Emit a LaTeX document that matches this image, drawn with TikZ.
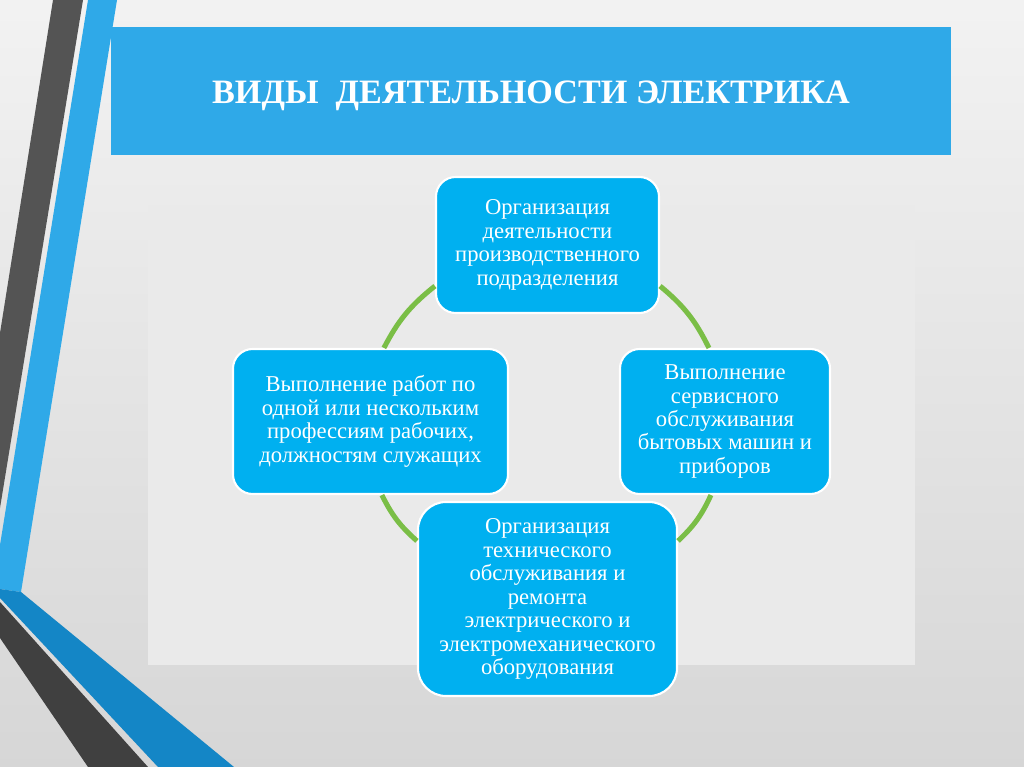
\documentclass[tikz,border=0pt]{standalone}
\usepackage{fontspec}
\setmainfont{Liberation Serif}
\usetikzlibrary{calc}

\definecolor{barblue}{RGB}{47,169,232}
\definecolor{boxblue}{RGB}{0,176,240}
\definecolor{deepblue}{RGB}{20,134,198}
\definecolor{stripegray}{RGB}{84,84,84}
\definecolor{bandgray}{RGB}{64,64,64}
\definecolor{panelgray}{RGB}{234,234,234}
\definecolor{linkgreen}{RGB}{122,190,70}

\tikzset{
  kind/.style={draw=white, line width=1.5pt, fill=boxblue, rounded corners=14pt,
    text=white, align=center, inner sep=0pt, font=\fontsize{16.1}{16.7}\selectfont},
  link/.style={draw=linkgreen, line width=3.6pt}
}

\begin{document}
\begin{tikzpicture}[x=0.025cm, y=-0.025cm]
        % Background and panel
        \shade[top color=gray!10, bottom color=gray!32] (0,0) rectangle (1024,767);
        \useasboundingbox (0,0) rectangle (1024,767);
        \fill[panelgray] (148,205) rectangle (915,665);

        % Stripes on the left
        \fill[stripegray] (53,0) -- (83,0) -- (0,508) -- (0,333) -- cycle;
        \fill[barblue] (88,0) -- (117,0) -- (21,592) -- (0,589) -- (0,545) -- cycle;
        \fill[deepblue] (0,589) -- (21,592) -- (234,767) -- (158,767) -- (0,598) -- cycle;
        \fill[bandgray] (0,602) -- (148,767) -- (88,767) -- (0,638) -- cycle;

        % Title
        \fill[barblue] (111,27) rectangle (951,155);
        \node[text=white, font=\fontsize{24.3}{29}\selectfont\bfseries] (title) at (531,96)
            {ВИДЫ\ \ ДЕЯТЕЛЬНОСТИ ЭЛЕКТРИКА};

        % The four kinds of work
        \node[kind, minimum width=5.575cm, minimum height=3.4cm] (org) at (547.5,245)
            {Организация\\деятельности\\производственного\\подразделения};
        \node[kind, minimum width=6.875cm, minimum height=3.625cm] (work) at (370.5,421.5)
            {Выполнение работ по\\одной или нескольким\\профессиям рабочих,\\должностям служащих};
        \node[kind, minimum width=5.25cm, minimum height=3.625cm] (service) at (725,421.5)
            {Выполнение\\сервисного\\обслуживания\\бытовых машин и\\приборов};
        \node[kind, rounded corners=20pt, minimum width=6.475cm, minimum height=4.85cm] (repair) at (547.5,599)
            {Организация\\технического\\обслуживания и\\ремонта\\электрического и\\электромеханического\\оборудования};

        % The green ring
        \draw[link] ($(org.south west)+(0,-28)$) to[bend right=12] ($(work.north west)+(152,0)$);
        \draw[link] ($(org.south east)+(0,-28)$) to[bend left=12] ($(service.north west)+(90,0)$);
        \draw[link] ($(work.south west)+(150,0)$) to[bend right=11] ($(repair.north west)+(0,40)$);
        \draw[link] ($(service.south west)+(92,0)$) to[bend left=11] ($(repair.north east)+(0,40)$);
\end{tikzpicture}
\end{document}
